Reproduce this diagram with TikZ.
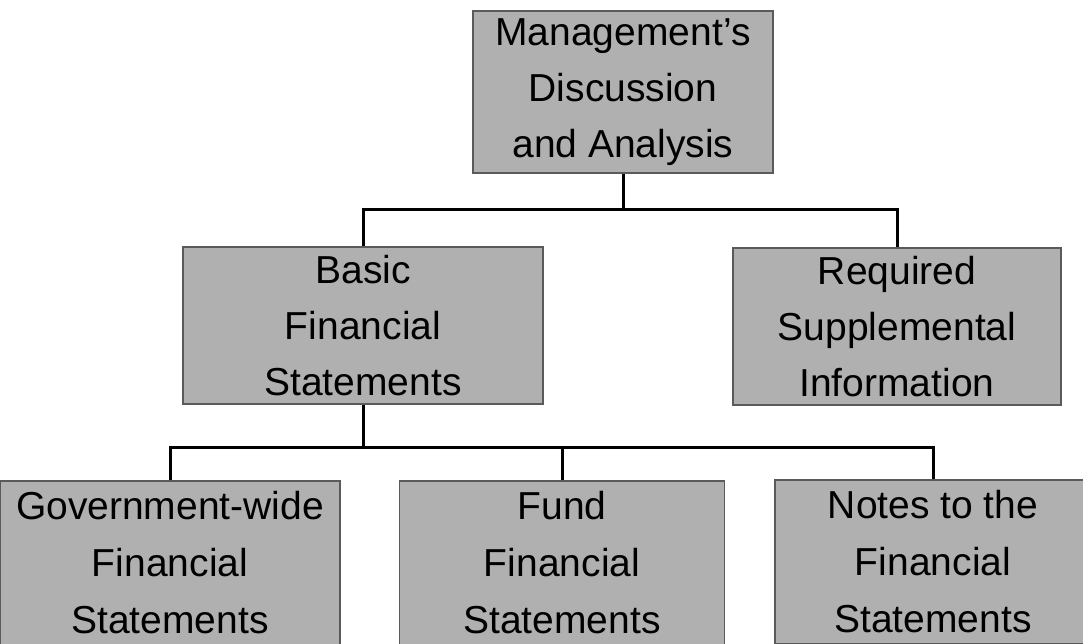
\documentclass[tikz,border=0pt]{standalone}
\usepackage{fontspec}
\setmainfont{Liberation Sans}
\definecolor{boxfill}{RGB}{176,176,176}
\definecolor{boxedge}{RGB}{90,90,90}
\begin{document}
\begin{tikzpicture}[x=1pt,y=-1pt,
  box/.style={rectangle, fill=boxfill, draw=boxedge, line width=1.5pt, inner sep=0pt,
    align=center, text=black, font=\fontsize{39}{56}\selectfont},
  lowbox/.style={box, font=\fontsize{39}{57}\selectfont},
  conn/.style={draw=black, line width=3pt}]
\useasboundingbox (0,0) rectangle (1083,643);
\fill[white] (0,0) rectangle (1083,643);
\node[box, minimum width=300pt, minimum height=162pt] (top) at (623,92)
  {Management's\\Discussion\\and Analysis};
\node[box, minimum width=360pt, minimum height=157pt] (basic) at (363,325.5)
  {Basic\\Financial\\Statements};
\node[box, minimum width=328pt, minimum height=157pt] (req) at (897,326.5)
  {Required\\Supplemental\\Information};
\node[lowbox, minimum width=340pt, minimum height=164pt] (gov) at (170,563)
  {Government-wide\\Financial\\Statements};
\node[lowbox, minimum width=325pt, minimum height=164pt] (fund) at (562,563)
  {Fund\\Financial\\Statements};
\node[lowbox, minimum width=316pt, minimum height=164pt] (notes) at (933,562)
  {Notes to the\\Financial\\Statements};
\draw[conn] (top.south) -- ++(0,36) coordinate (j1);
\draw[conn] (basic.north) |- (j1) -| (req.north);
\draw[conn] (basic.south) -- ++(0,43) coordinate (j2);
\draw[conn] (gov.north) |- (j2) -| (notes.north);
\draw[conn] (fund.north) -- (fund.north |- j2);
\end{tikzpicture}
\end{document}
